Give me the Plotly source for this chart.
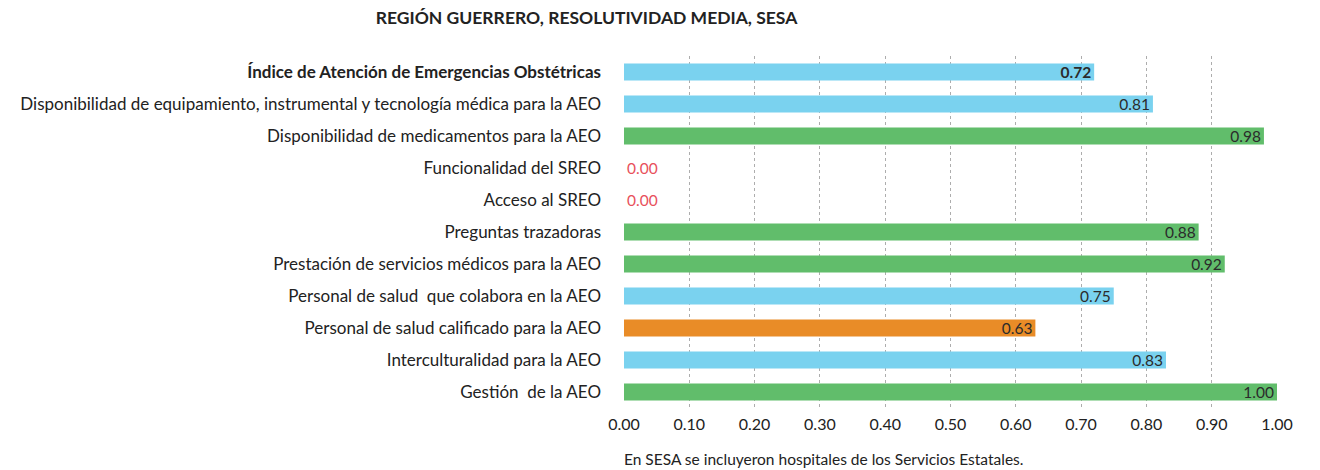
import plotly.graph_objects as go

categories = [
    "Índice de Atención de Emergencias Obstétricas",
    "Disponibilidad de equipamiento, instrumental y tecnología médica para la AEO",
    "Disponibilidad de medicamentos para la AEO",
    "Funcionalidad del SREO",
    "Acceso al SREO",
    "Preguntas trazadoras",
    "Prestación de servicios médicos para la AEO",
    "Personal de salud  que colabora en la AEO",
    "Personal de salud calificado para la AEO",
    "Interculturalidad para la AEO",
    "Gestión  de la AEO",
]
values = [0.72, 0.81, 0.98, 0.00, 0.00, 0.88, 0.92, 0.75, 0.63, 0.83, 1.00]
levels = ["media", "media", "alta", "baja", "baja", "alta", "alta", "media", "baja_med", "media", "alta"]
tick_vals = [0.0, 0.1, 0.2, 0.3, 0.4, 0.5, 0.6, 0.7, 0.8, 0.9, 1.0]

color_map = {"media": "#7ad2ef", "alta": "#61bd6b", "baja_med": "#e98c27", "baja": "#e8505b"}
bar_colors = [color_map[l] for l in levels]
text_colors = ["#e8505b" if v == 0 else "#2b2b2b" for v in values]
texts = [f"<b>{v:.2f}</b>" if i == 0 else f"{v:.2f}" for i, v in enumerate(values)]
positions = ["outside" if v == 0 else "inside" for v in values]
tick_text = [f"<b>{c}</b>" if i == 0 else c for i, c in enumerate(categories)]

fig = go.Figure(go.Bar(
    x=values, y=list(range(len(categories))), orientation="h",
    marker=dict(color=bar_colors, line=dict(width=0)),
    width=0.53,
    text=texts, textposition=positions, insidetextanchor="end",
    textfont=dict(color=text_colors, size=15.5, family="Lato"),
    constraintext="none", cliponaxis=False,
    hoverinfo="skip",
))

fig.update_layout(
    width=1312, height=462,
    margin=dict(l=616, r=43, t=48, b=62),
    paper_bgcolor="white", plot_bgcolor="white",
    font=dict(family="Lato", size=17, color="#222"),
    showlegend=False,
    title=dict(text="<b>REGIÓN GUERRERO, RESOLUTIVIDAD MEDIA, SESA</b>",
               x=0.441, xanchor="center", y=0.978, yanchor="middle",
               font=dict(size=17.5, color="#222", family="Lato")),
)
fig.update_xaxes(
    range=[0, 1.0], tickvals=tick_vals, ticktext=[f"{t:.2f}" for t in tick_vals],
    showgrid=True, gridcolor="#adadad", griddash="dot", gridwidth=1,
    zeroline=False, showline=False, ticks="", tickfont=dict(size=16, color="#222"),
    ticklabelstandoff=5,
)
fig.update_yaxes(
    range=[10.5, -0.5], tickvals=list(range(len(categories))), ticktext=tick_text,
    showgrid=False, zeroline=False, ticks="", tickfont=dict(size=17, color="#222"),
    ticklabelstandoff=22,
)
fig.add_annotation(text="En SESA se incluyeron hospitales de los Servicios Estatales.",
                   xref="paper", yref="paper", x=-0.003, xanchor="left",
                   y=-0.145, yanchor="middle", showarrow=False,
                   font=dict(size=15.5, color="#222", family="Lato"))
fig.write_html("out.html")
